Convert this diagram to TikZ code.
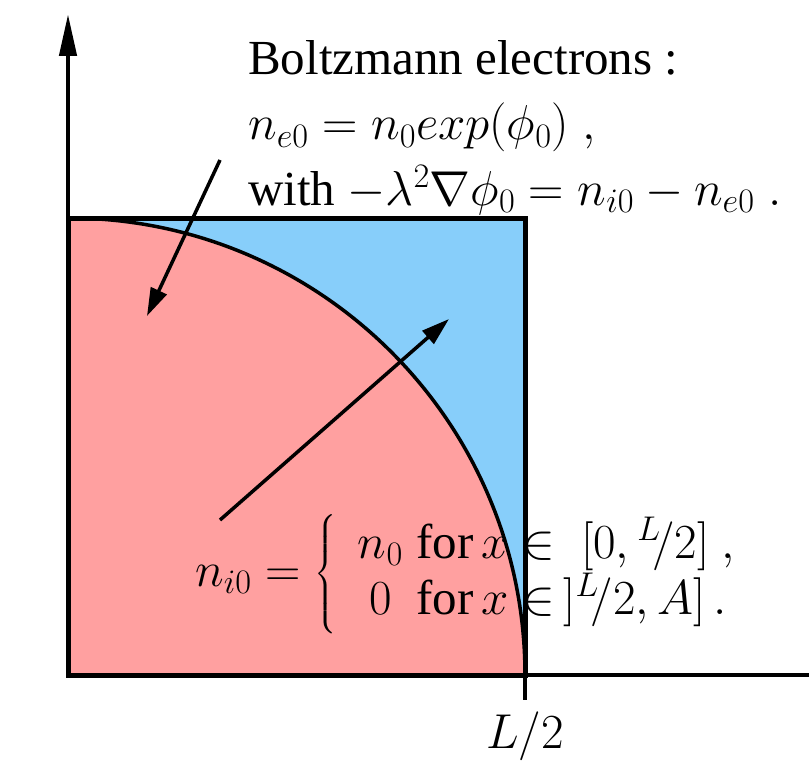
\RequirePackage{fix-cm}
\documentclass[tikz,border=0pt]{standalone}
\usepackage{amsmath}
\usepackage{fontspec}
\setmainfont{Liberation Serif}
\usetikzlibrary{arrows.meta}
\definecolor{skyfill}{RGB}{135,206,250}
\definecolor{pinkfill}{RGB}{255,160,160}
\tikzset{
  axisline/.style={line width=4.5pt},
  bigtxt/.style={inner sep=0pt, font=\fontsize{49}{60}\selectfont},
  ptr/.style={line width=3.5pt, -{Triangle[length=28pt,width=17pt]}},
}
\begin{document}
\begin{tikzpicture}[x=1pt,y=-1pt]
\useasboundingbox (0,0) rectangle (809,773);
% regions
\fill[skyfill] (68,218) rectangle (525,675);
\fill[pinkfill] (68,675) -- (68,218) arc[start angle=-90,end angle=0,radius=457] -- cycle;
\draw[line width=3.5pt] (68,218) arc[start angle=-90,end angle=0,radius=457];
\draw[line width=5pt] (68,218) rectangle (525,675);
% axes
\coordinate (O) at (68,675);
\coordinate (ytop) at (68,14);
\coordinate (xend) at (809,675);
\coordinate (tickA) at (525,675);
\coordinate (tickB) at (525,700);
\draw[axisline, -{Triangle[length=42pt,width=17pt]}] (O) -- (ytop);
\draw[line width=3.5pt] (O) -- (xend);
\draw[line width=3.5pt] (tickA) -- (tickB);
\node[bigtxt, anchor=base] (lhalf) at (525,748) {$L/2$};
% arrows
\coordinate (a1s) at (220,160);
\coordinate (a1e) at (147,316);
\coordinate (a2s) at (220,520);
\coordinate (a2e) at (449,319);
\draw[ptr] (a1s) -- (a1e);
\draw[ptr] (a2s) -- (a2e);
% texts
\node[bigtxt, anchor=base west] (t1) at (248,75) {Boltzmann electrons :};
\node[bigtxt, anchor=base west] (t2) at (248,140) {$n_{e0} = n_0exp(\phi_0)\;,$};
\node[bigtxt, anchor=base west] (t3) at (248,205) {with $-\lambda^2\nabla\phi_0 = n_{i0}-n_{e0}\;.$};
\node[bigtxt, anchor=west] (ni) at (195,574) {$n_{i0} = \left\{\;\,\begin{array}{@{}r@{}l@{}} n_0\;\text{for}\,x & \;\in\ [0,{}^{L}\!/2]\ ,\\[-4pt] 0\ \ \text{for}\,x & \;\in\,]{}^{L}\!/2,A]\,. \end{array}\right.$};
\end{tikzpicture}
\end{document}
